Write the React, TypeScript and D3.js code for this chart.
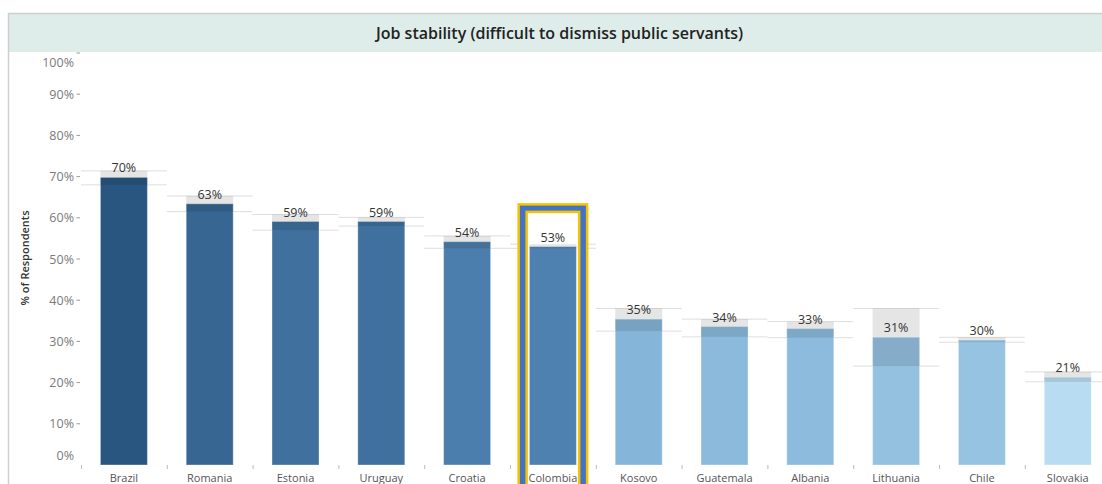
import React from "react";
import * as d3 from "d3";

const title = "Job stability (difficult to dismiss public servants)";
const countries = ["Brazil", "Romania", "Estonia", "Uruguay", "Croatia", "Colombia", "Kosovo", "Guatemala", "Albania", "Lithuania", "Chile", "Slovakia"];
const values = [69.8, 63.4, 59.1, 59.1, 54.2, 53.0, 35.4, 33.6, 33.1, 31.0, 30.3, 21.3];
const ciUpper = [71.4, 65.3, 60.8, 60.1, 55.6, 53.6, 38.0, 35.4, 34.8, 38.0, 31.0, 22.6];
const ciLower = [68.0, 61.5, 57.0, 58.0, 52.6, 52.6, 32.5, 31.1, 30.9, 24.0, 29.8, 20.2];
const yTicks = [0, 10, 20, 30, 40, 50, 60, 70, 80, 90, 100];
const highlighted = "Colombia";
const yAxisTitle = "% of Respondents";

const W = 1102;
const H = 484;

export default function App() {
  const x = d3.scaleBand<string>().domain(countries).range([81, 1110.6]).paddingInner(0).paddingOuter(0);
  const y = d3.scaleLinear().domain([0, 100]).range([465, 53]);
  const color = d3
    .scaleLinear<string>()
    .domain([21, 35, 53, 70])
    .range(["#b9ddf1", "#86b6da", "#4e81af", "#28557f"])
    .interpolate(d3.interpolateRgb);
  const fmt = (v: number) => d3.format(".0%")(v / 100);
  const barW = 47;
  const font = "'Open Sans', sans-serif";

  const hlIdx = countries.indexOf(highlighted);
  const hlCx = (x(highlighted) as number) + x.bandwidth() / 2;
  const hlTop = y(values[hlIdx]) - 43.5;

  return (
    <svg
      width={W}
      height={H}
      style={{ position: "fixed", left: 0, top: 0, background: "#fff" }}
      fontFamily={font}
    >
      {/* frame */}
      <rect x={8} y={13} width={W - 8} height={39} fill="#deede9" />
      <line x1={8} x2={W} y1={13.5} y2={13.5} stroke="#cfcfcf" strokeWidth={1.5} />
      <line x1={8.5} x2={8.5} y1={13} y2={H} stroke="#cfcfcf" strokeWidth={1.5} />
      <text x={559.5} y={38.5} textAnchor="middle" fontSize={16} fontWeight={600} fill="#222">
        {title}
      </text>

      {/* y axis */}
      {yTicks.map((t) => {
        const ty = y(t);
        const ly = t === 100 ? ty + 9 : t === 0 ? ty - 10 : ty;
        return (
          <g key={t}>
            <text x={74} y={ly + 4.5} textAnchor="end" fontSize={12.5} fill="#7a7a7a">
              {t}%
            </text>
            {t !== 0 && <line x1={76.5} x2={80} y1={ty} y2={ty} stroke="#9a9a9a" strokeWidth={1} />}
          </g>
        );
      })}
      <text
        transform={`translate(29,258) rotate(-90)`}
        textAnchor="middle"
        fontSize={11}
        fontWeight={600}
        fill="#333"
      >
        {yAxisTitle}
      </text>

      {/* CI reference lines */}
      {countries.map((c, i) => (
        <g key={"ci" + c}>
          <line x1={x(c)} x2={(x(c) as number) + x.bandwidth()} y1={y(ciUpper[i])} y2={y(ciUpper[i])} stroke="#dedede" strokeWidth={1} />
          <line x1={x(c)} x2={(x(c) as number) + x.bandwidth()} y1={y(ciLower[i])} y2={y(ciLower[i])} stroke="#dedede" strokeWidth={1} />
        </g>
      ))}

      {/* highlight box */}
      <g>
        <rect x={hlCx - 35.5} y={hlTop} width={71} height={H - hlTop + 20} fill="#f7c300" />
        <rect x={hlCx - 33} y={hlTop + 2.5} width={66} height={H - hlTop + 20} fill="#4472c4" />
        <rect x={hlCx - 27.5} y={hlTop + 7.5} width={55} height={H - hlTop + 20} fill="#f7c300" />
        <rect x={hlCx - 25} y={hlTop + 10} width={50} height={H - hlTop + 20} fill="#ffffff" />
      </g>

      {/* bars */}
      {countries.map((c, i) => {
        const cx = (x(c) as number) + x.bandwidth() / 2;
        const top = y(values[i]);
        return (
          <g key={"bar" + c}>
            <rect x={cx - barW / 2} y={top} width={barW} height={y(0) - top} fill={color(values[i])} stroke="rgba(255,255,255,0.35)" strokeWidth={1} />
            <rect
              x={cx - barW / 2}
              y={y(ciUpper[i])}
              width={barW}
              height={y(ciLower[i]) - y(ciUpper[i])}
              fill="rgba(0,0,0,0.1)"
            />
            <text x={cx} y={top - 5} textAnchor="middle" fontSize={12.5} fill="#333">
              {fmt(values[i])}
            </text>
          </g>
        );
      })}

      {/* x axis */}
      {countries.map((c) => (
        <line key={"t" + c} x1={(x(c) as number) + 0.5} x2={(x(c) as number) + 0.5} y1={465} y2={469} stroke="#bbb" strokeWidth={1} />
      ))}
      {countries.map((c) => (
        <text key={"l" + c} x={(x(c) as number) + x.bandwidth() / 2} y={482} textAnchor="middle" fontSize={11} fill="#555">
          {c}
        </text>
      ))}
    </svg>
  );
}
